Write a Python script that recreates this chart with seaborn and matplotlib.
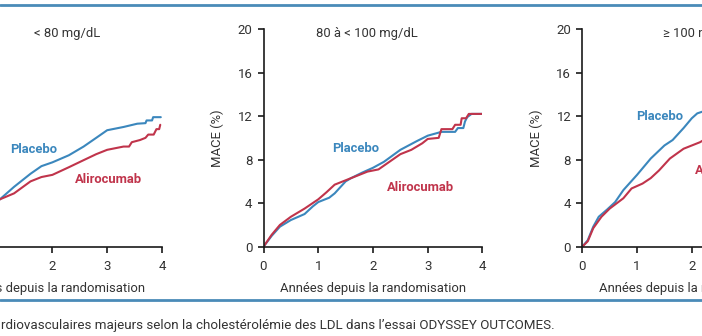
import matplotlib
matplotlib.use("Agg")
import matplotlib.pyplot as plt
from matplotlib.lines import Line2D
import seaborn as sns
import pandas as pd

sns.set_theme(style="white")
plt.rcParams['font.family'] = ['Roboto', 'DejaVu Sans']

# ---- data ----
p1_plac_x = [0, 0.3, 0.6, 1.04, 1.3, 1.6, 1.8, 2.0, 2.3, 2.57, 2.8, 3.0, 3.3, 3.55, 3.7, 3.72, 3.82, 3.84, 3.98]
p1_plac_y = [0, 1.6, 2.8, 4.35, 5.5, 6.7, 7.4, 7.75, 8.4, 9.2, 10.0, 10.7, 11.0, 11.3, 11.35, 11.6, 11.6, 11.9, 11.9]
p1_alir_x = [0, 0.3, 0.6, 1.04, 1.3, 1.6, 1.8, 2.0, 2.3, 2.57, 2.8, 3.0, 3.3, 3.4, 3.45, 3.6, 3.7, 3.75, 3.85, 3.9, 3.95, 3.97]
p1_alir_y = [0, 1.5, 2.6, 4.35, 4.9, 6.0, 6.4, 6.6, 7.3, 7.95, 8.5, 8.9, 9.2, 9.2, 9.6, 9.8, 10.0, 10.3, 10.3, 10.8, 10.8, 11.2]

p2_plac_x = [0, 0.15, 0.3, 0.5, 0.75, 0.9, 1.0, 1.2, 1.3, 1.5, 1.6, 1.8, 2.0, 2.2, 2.5, 2.8, 3.0, 3.25, 3.5, 3.55, 3.65, 3.68, 3.72, 3.8, 4.0]
p2_plac_y = [0, 1.0, 1.84, 2.45, 3.0, 3.7, 4.1, 4.5, 4.9, 6.0, 6.3, 6.8, 7.25, 7.8, 8.9, 9.7, 10.2, 10.55, 10.55, 10.9, 10.9, 11.5, 11.9, 12.2, 12.2]
p2_alir_x = [0, 0.15, 0.3, 0.5, 0.75, 1.0, 1.15, 1.3, 1.5, 1.7, 1.9, 2.1, 2.3, 2.5, 2.7, 2.9, 3.0, 3.2, 3.25, 3.45, 3.5, 3.6, 3.62, 3.7, 3.75, 4.0]
p2_alir_y = [0, 1.1, 2.0, 2.75, 3.5, 4.35, 5.0, 5.7, 6.1, 6.5, 6.9, 7.1, 7.8, 8.5, 8.9, 9.5, 9.9, 10.0, 10.8, 10.8, 11.2, 11.2, 11.8, 11.8, 12.2, 12.2]

p3_plac_x = [0, 0.1, 0.2, 0.3, 0.45, 0.6, 0.75, 1.0, 1.25, 1.5, 1.65, 1.85, 2.0, 2.1, 2.25]
p3_plac_y = [0, 0.6, 1.84, 2.75, 3.4, 4.1, 5.2, 6.6, 8.1, 9.3, 9.8, 10.9, 11.8, 12.25, 12.5]
p3_alir_x = [0, 0.1, 0.2, 0.35, 0.5, 0.75, 0.9, 1.1, 1.25, 1.4, 1.6, 1.85, 2.0, 2.15, 2.25]
p3_alir_y = [0, 0.5, 1.7, 2.75, 3.5, 4.45, 5.35, 5.8, 6.3, 7.0, 8.1, 9.0, 9.3, 9.6, 9.9]

titles = ["< 80 mg/dL", "80 à < 100 mg/dL", "≥ 100 mg/dL"]
xticks = [0, 1, 2, 3, 4]
yticks = [0, 4, 8, 12, 16, 20]
xlabel = "Années depuis la randomisation"
ylabel = "MACE (%)"
caption = "rdiovasculaires majeurs selon la cholestérolémie des LDL dans l’essai ODYSSEY OUTCOMES."

BLUE = "#3b87bd"
RED = "#c0344b"
FRAME = "#4a8bb8"
TXT = "#333333"

W, H = 702, 336
fig = plt.figure(figsize=(W / 100, H / 100), dpi=100)
fig.patch.set_facecolor("white")

panels = [
    (p1_plac_x, p1_plac_y, p1_alir_x, p1_alir_y),
    (p2_plac_x, p2_plac_y, p2_alir_x, p2_alir_y),
    (p3_plac_x, p3_plac_y, p3_alir_x, p3_alir_y),
]
lefts_px = [-57.1, 263.5, 582.3]
ax_w_px = 219.0
ax_bottom_px = 246.7
ax_top_px = 29.0

# text positions (data coords)
plac_pos = [(1.65, 8.9, "center"), (1.69, 9.05, "center"), (1.42, 11.95, "center")]
alir_pos = [(3.02, 6.2, "center"), (2.86, 5.4, "center"), (2.06, 7.0, "left")]
title_pos = [(2.27, 19.6, "center"), (1.89, 19.6, "center"), (1.48, 19.6, "left")]

FS = 9.4

for i, (px, py, axx, ayy) in enumerate(panels):
    left = lefts_px[i] / W
    bottom = (H - ax_bottom_px) / H
    height = (ax_bottom_px - ax_top_px) / H
    ax = fig.add_axes([left, bottom, ax_w_px / W, height])
    df = pd.concat([
        pd.DataFrame({"x": px, "y": py, "g": "Placebo"}),
        pd.DataFrame({"x": axx, "y": ayy, "g": "Alirocumab"}),
    ])
    sns.lineplot(data=df, x="x", y="y", hue="g", units="g", estimator=None, sort=False,
                 palette={"Placebo": BLUE, "Alirocumab": RED}, linewidth=1.5,
                 legend=False, ax=ax, hue_order=["Placebo", "Alirocumab"])
    ax.set_xlim(0, 4)
    ax.set_ylim(0, 20)
    ax.set_xticks(xticks)
    ax.set_yticks(yticks)
    ax.set_facecolor("none")
    for s in ["top", "right"]:
        ax.spines[s].set_visible(False)
    for s in ["left", "bottom"]:
        ax.spines[s].set_color("#1a1a1a")
        ax.spines[s].set_linewidth(1.2)
    ax.tick_params(axis="both", which="major", direction="out", length=4, width=1.2,
                   color="#1a1a1a", labelsize=9.5, labelcolor=TXT,
                   left=True, bottom=True)
    ax.tick_params(axis="x", pad=5.5)
    ax.tick_params(axis="y", pad=4)
    ax.set_xlabel(xlabel, fontsize=FS, color=TXT)
    ax.set_ylabel(ylabel, fontsize=FS, color=TXT)
    ax.xaxis.set_label_coords(0.5, -35 / 217.7)
    ax.yaxis.set_label_coords(-39 / 219.0, 0.5)
    ax.grid(False)
    x, y, ha = plac_pos[i]
    ax.text(x, y, "Placebo", color=BLUE, fontsize=FS, fontweight="bold", ha=ha, va="center")
    x, y, ha = alir_pos[i]
    ax.text(x, y, "Alirocumab", color=RED, fontsize=FS, fontweight="bold", ha=ha, va="center")
    x, y, ha = title_pos[i]
    ax.text(x, y, titles[i], color=TXT, fontsize=FS, ha=ha, va="center")

# frame lines
for ypx in [5, 300]:
    yf = 1 - ypx / H
    fig.add_artist(Line2D([0, 1], [yf, yf], transform=fig.transFigure, color=FRAME, linewidth=2))

fig.text(1 / W, 1 - 325 / H, caption, fontsize=9.6, color=TXT, ha="left", va="center")

fig.savefig("out.png", dpi=100, facecolor="white")
